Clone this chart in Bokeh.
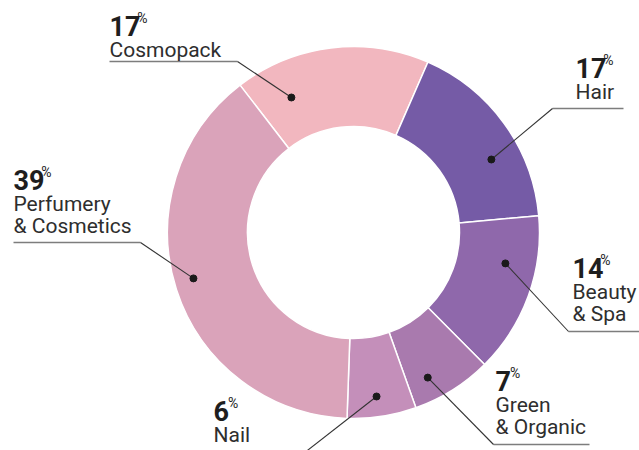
import math
from bokeh.plotting import figure
from bokeh.models import Range1d
from bokeh.embed import file_html
from bokeh.resources import INLINE
from bokeh.core.properties import value

# ---------------- data ----------------
categories = ["Cosmopack", "Hair", "Beauty & Spa", "Green & Organic", "Nail", "Perfumery & Cosmetics"]
shares = [17, 17, 14, 7, 6, 39]
label_lines = [["Cosmopack"], ["Hair"], ["Beauty", "& Spa"], ["Green", "& Organic"], ["Nail"], ["Perfumery", "& Cosmetics"]]
colors = ["#F2B7BF", "#755BA6", "#8F68AB", "#A97AAE", "#C48FBA", "#DAA3BA"]

# ---------------- layout (image pixels, y downward) ----------------
W, H = 639, 450
CX, CY_IMG = 353, 232
R_OUT, R_IN = 186, 106
START_DEG = -37.6          # clockwise from 12 o'clock

text_x = [109, 575, 572, 495, 213, 13]
num_base = [33, 75, 275, 388, 418, 187]
first_gap, line_gap = 24, 22.5
TEXT_SHIFT = 8             # renderer baseline correction (px, upward)
underline_y = [61, 108, 331, 444, 453, 242]
underline_far = [109, 623, 650, 589, 200, 13]
underline_near = [237, 552, 568, 493, 303, 140]
dot_angle = [-24.7, 62.1, 101.5, 152.9, 172.0, 254.0]
dot_r = [148.6, 156.0, 155.0, 163.0, 165.6, 166.5]

FONT = "Roboto"
TXT = "#2e2e2e"
NUM_SIZE = 27
DIGIT_W = 13.4


def Y(v):
    return H - v


p = figure(width=W, height=H, output_backend="svg", toolbar_location=None,
           x_range=Range1d(0, W), y_range=Range1d(0, H), min_border=0)
p.axis.visible = False
p.grid.visible = False
p.outline_line_color = None
p.background_fill_color = "white"

# wedges
total = float(sum(shares))
starts, ends = [], []
acc = START_DEG
for s in shares:
    a0 = acc
    a1 = acc + 360.0 * s / total
    starts.append(math.radians(90 - a0))
    ends.append(math.radians(90 - a1))
    acc = a1

p.annular_wedge(x=[CX] * len(shares), y=[Y(CY_IMG)] * len(shares),
                inner_radius=R_IN, outer_radius=R_OUT,
                start_angle=starts, end_angle=ends, direction="clock",
                fill_color=colors, line_color="white", line_width=1.5)

# dots and leader lines
dx_list, dy_list = [], []
for ang, r in zip(dot_angle, dot_r):
    dx_list.append(CX + r * math.sin(math.radians(ang)))
    dy_list.append(Y(CY_IMG - r * math.cos(math.radians(ang))))

p.multi_line(xs=[[f, n] for f, n in zip(underline_far, underline_near)],
             ys=[[Y(u), Y(u)] for u in underline_y],
             line_color="#7d7d7d", line_width=1.5)
p.multi_line(xs=[[n, dx] for n, dx in zip(underline_near, dx_list)],
             ys=[[Y(u), dy] for u, dy in zip(underline_y, dy_list)],
             line_color="#333333", line_width=1.1)
p.scatter(x=dx_list, y=dy_list, size=7, color="#1a1a1a")

# labels
num_text = [str(s) for s in shares]
p.text(x=text_x, y=[Y(b - TEXT_SHIFT) for b in num_base], text=num_text,
       text_font=value(FONT), text_font_style="bold", text_font_size=f"{NUM_SIZE}px",
       text_color="#1e1e1e", text_baseline="alphabetic", text_align="left")
p.text(x=[tx + len(t) * DIGIT_W + 1 for tx, t in zip(text_x, num_text)],
       y=[Y(b - 8 - TEXT_SHIFT) for b in num_base],
       text=["%"] * len(shares),
       text_font=value(FONT), text_font_size="14px",
       text_color="#1e1e1e", text_baseline="alphabetic", text_align="left")

lx, ly, lt = [], [], []
for tx, b, lines in zip(text_x, num_base, label_lines):
    for i, t in enumerate(lines):
        lx.append(tx)
        ly.append(Y(b + first_gap + i * line_gap - TEXT_SHIFT))
        lt.append(t)
p.text(x=lx, y=ly, text=lt, text_font=value(FONT), text_font_size="21px",
       text_color=TXT, text_baseline="alphabetic", text_align="left")

open("out.html", "w").write(file_html(p, INLINE))
